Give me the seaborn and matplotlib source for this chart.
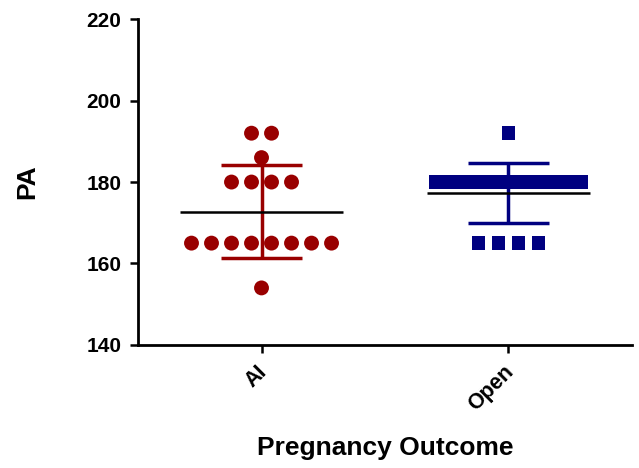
import numpy as np
import pandas as pd
import seaborn as sns
import matplotlib.pyplot as plt
import matplotlib.transforms as mtransforms

# PA values, one entry per animal
outcomes = ["AI", "Open"]
ai_pa = [192, 192, 186, 180, 180, 180, 180,
         165, 165, 165, 165, 165, 165, 165, 165, 154]
open_pa = [192, 180, 180, 180, 180, 180, 180, 180, 180, 180, 180, 180, 180, 180,
           165, 165, 165, 165]
colors = {"AI": "#990000", "Open": "#000080"}
markers = {"AI": "o", "Open": "s"}

sns.set_style("ticks")
plt.rcParams["font.family"] = ["Liberation Sans", "DejaVu Sans"]
plt.rcParams["text.color"] = "black"
plt.rcParams["axes.labelcolor"] = "black"
plt.rcParams["xtick.color"] = "black"
plt.rcParams["ytick.color"] = "black"

df = pd.DataFrame({
    "outcome": ["AI"] * len(ai_pa) + ["Open"] * len(open_pa),
    "PA": ai_pa + open_pa,
})

# spread tied values side by side, like a column scatter plot
def spread(values, step=0.081, max_width=0.59):
    values = np.asarray(values)
    off = np.zeros(len(values))
    for v in np.unique(values):
        idx = np.where(values == v)[0]
        n = len(idx)
        if n > 1:
            s = min(step, max_width / (n - 1))
            off[idx] = (np.arange(n) - (n - 1) / 2) * s
    return off

df["x"] = 0.0
for i, o in enumerate(outcomes):
    m = df["outcome"] == o
    df.loc[m, "x"] = i + spread(df.loc[m, "PA"].values)

fig = plt.figure(figsize=(6.39, 4.68), dpi=100)
ax = fig.add_axes([0.216, 0.263, 0.773, 0.696])

for i, o in enumerate(outcomes):
    sub = df[df["outcome"] == o]
    sns.scatterplot(data=sub, x="x", y="PA", ax=ax, color=colors[o],
                    marker=markers[o], s=115 if o == "AI" else 100,
                    edgecolor="none", linewidth=0, legend=False, zorder=2)
    mean = sub["PA"].mean()
    sd = sub["PA"].std()
    ax.vlines(i, mean - sd, mean + sd, color=colors[o], lw=2.5, zorder=3)
    ax.hlines([mean - sd, mean + sd], i - 0.165, i + 0.165, color=colors[o], lw=2.5, zorder=3)
    ax.hlines(mean, i - 0.33, i + 0.33, color="black", lw=1.8, zorder=4)

ax.set_xlim(-0.5, 1.5)
ax.set_ylim(140, 220)
ax.set_yticks([140, 160, 180, 200, 220])
ax.set_xticks([0, 1])
ax.set_xticklabels(outcomes, rotation=45, ha="right", rotation_mode="anchor")
ax.tick_params(axis="both", labelsize=15, width=1.8, length=6, pad=6)
ax.tick_params(axis="x", labelsize=15.5)
shift = mtransforms.ScaledTranslation(-5 / 100, 0, fig.dpi_scale_trans)
for lab in ax.get_xticklabels():
    lab.set_fontweight("bold")
    lab.set_transform(lab.get_transform() + shift)
for lab in ax.get_yticklabels():
    lab.set_fontweight("bold")
ax.set_xlabel("Pregnancy Outcome", fontsize=19, fontweight="bold")
ax.set_ylabel("PA", fontsize=19, fontweight="bold")
ax.xaxis.set_label_coords(0.5, -0.28)
ax.yaxis.set_label_coords(-0.2, 0.5)
for s in ["left", "bottom"]:
    ax.spines[s].set_linewidth(2)
    ax.spines[s].set_color("black")
sns.despine(ax=ax)

fig.savefig("out.png", dpi=100)
